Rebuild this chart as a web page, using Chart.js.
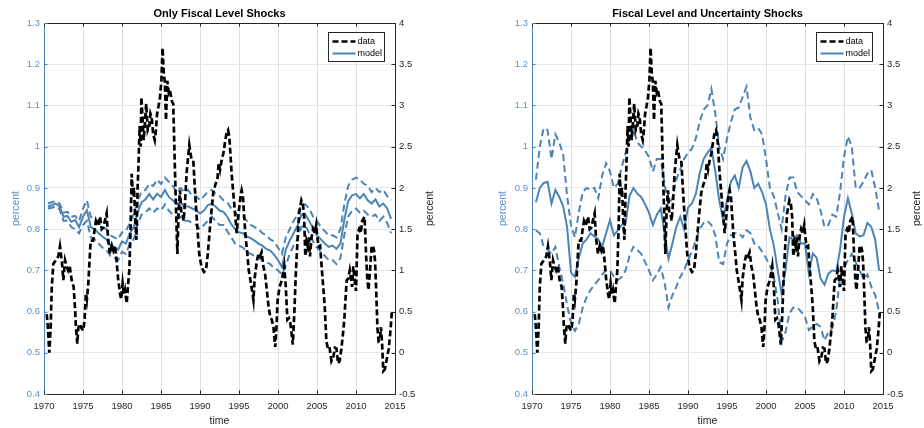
<!DOCTYPE html>
<html><head><meta charset="utf-8">
<script src="https://cdn.jsdelivr.net/npm/chart.js@4/dist/chart.umd.min.js"></script>
<style>
html,body{margin:0;padding:0;background:#fff;}
#wrap{position:relative;width:924px;height:428px;}
.c{position:absolute;top:0;width:462px;height:428px;}
</style></head><body>
<div id="wrap">
<div class="c" style="left:0"><canvas id="c1" width="462" height="428"></canvas></div>
<div class="c" style="left:462px"><canvas id="c2" width="462" height="428"></canvas></div>
</div>
<script>
// ---------- DATA ----------
const panelTitles = ['Only Fiscal Level Shocks', 'Fiscal Level and Uncertainty Shocks'];
const xTicks = [1970, 1975, 1980, 1985, 1990, 1995, 2000, 2005, 2010, 2015];
const leftTicks = [0.4, 0.5, 0.6, 0.7, 0.8, 0.9, 1, 1.1, 1.2, 1.3];
const rightTicks = [-0.5, 0, 0.5, 1, 1.5, 2, 2.5, 3, 3.5, 4];

// observed data (right axis, percent)
const dataT = [1970.35,1970.5,1970.68,1970.85,1971.0,1971.2,1971.5,1971.84,1972.05,1972.3,1972.48,1972.7,1972.9,1973.1,1973.3,1973.55,1973.8,1973.97,1974.1,1974.27,1974.4,1974.6,1974.8,1975.04,1975.2,1975.38,1975.5,1975.68,1975.98,1976.3,1976.5,1976.67,1976.9,1977.18,1977.4,1977.6,1977.8,1978.03,1978.2,1978.46,1978.7,1978.89,1979.1,1979.3,1979.5,1979.74,1979.9,1980.08,1980.25,1980.38,1980.6,1980.8,1980.94,1981.1,1981.24,1981.4,1981.54,1981.7,1981.85,1982.0,1982.1,1982.26,1982.4,1982.48,1982.6,1982.78,1982.95,1983.1,1983.3,1983.5,1983.65,1983.8,1984.0,1984.2,1984.35,1984.5,1984.7,1984.87,1985.05,1985.2,1985.35,1985.5,1985.64,1985.8,1986.0,1986.15,1986.4,1986.57,1986.8,1987.0,1987.1,1987.25,1987.43,1987.6,1987.77,1987.9,1988.07,1988.3,1988.63,1988.9,1989.14,1989.4,1989.66,1989.9,1990.2,1990.5,1990.77,1991.0,1991.28,1991.5,1991.7,1992.0,1992.23,1992.4,1992.57,1992.8,1993.0,1993.2,1993.4,1993.6,1993.76,1994.06,1994.3,1994.5,1994.7,1994.85,1995.04,1995.2,1995.34,1995.5,1995.64,1995.85,1996.07,1996.25,1996.4,1996.6,1996.85,1997.0,1997.3,1997.5,1997.7,1997.9,1998.15,1998.35,1998.57,1998.8,1999.0,1999.2,1999.42,1999.64,1999.8,1999.95,2000.2,2000.5,2000.8,2001.0,2001.2,2001.4,2001.6,2001.9,2002.1,2002.3,2002.5,2002.7,2003.0,2003.2,2003.35,2003.5,2003.65,2003.8,2003.95,2004.1,2004.3,2004.5,2004.7,2004.9,2005.05,2005.2,2005.4,2005.6,2005.8,2006.0,2006.2,2006.4,2006.6,2006.85,2007.1,2007.3,2007.5,2007.7,2007.9,2008.1,2008.3,2008.5,2008.8,2009.0,2009.2,2009.35,2009.5,2009.65,2009.8,2010.0,2010.2,2010.4,2010.6,2010.8,2011.1,2011.3,2011.45,2011.6,2011.8,2012.0,2012.15,2012.3,2012.45,2012.6,2012.75,2012.9,2013.05,2013.2,2013.35,2013.5,2013.7,2013.9,2014.2,2014.4,2014.6];
const dataV = [0.47,0.3,0.0,0.3,0.8,1.08,1.12,1.17,1.29,1.1,0.88,1.12,1.05,1.0,1.05,0.88,0.8,0.55,0.3,0.11,0.3,0.35,0.3,0.27,0.4,0.72,0.65,0.84,1.36,1.36,1.5,1.6,1.55,1.65,1.5,1.52,1.6,1.69,1.4,1.2,1.3,1.24,1.3,1.12,0.9,0.72,0.65,0.84,0.7,0.76,0.6,0.85,1.0,1.5,2.17,1.9,2.0,1.6,1.37,2.0,2.25,2.75,2.5,3.1,2.9,2.58,2.8,3.02,2.7,2.75,2.9,2.86,2.65,2.58,2.7,2.9,3.0,3.1,3.3,3.7,3.4,3.27,2.82,3.3,3.15,3.18,3.05,3.02,2.17,1.5,1.2,1.7,1.97,1.7,1.69,1.6,1.81,2.2,2.52,2.35,2.33,1.9,1.52,1.2,1.04,0.98,1.0,1.2,1.52,1.75,1.94,2.05,2.1,2.3,2.22,2.35,2.42,2.55,2.66,2.7,2.62,2.17,1.9,1.69,1.45,1.6,1.77,1.9,1.97,1.9,1.69,1.4,1.2,1.0,0.92,0.8,0.64,0.9,1.12,1.2,1.17,1.22,1.04,0.95,0.76,0.55,0.44,0.4,0.31,0.07,0.3,0.64,0.8,0.88,1.05,0.8,0.4,0.42,0.35,0.1,0.5,1.0,1.35,1.69,1.85,1.8,1.65,1.17,1.35,1.29,1.4,1.17,1.4,1.5,1.45,1.55,1.4,1.29,1.3,1.04,0.8,0.55,0.14,0.05,0.07,-0.1,-0.05,0.06,0.05,-0.13,-0.1,0.03,0.2,0.4,0.88,0.9,1.0,0.9,0.8,1.05,0.9,0.75,1.45,1.5,1.45,1.6,1.65,1.17,0.9,0.76,1.0,1.29,1.3,1.25,1.1,0.72,0.3,0.14,0.15,0.31,0.1,-0.22,-0.2,-0.1,0.05,0.25,0.5];

// model time grid (half-yearly, 1970.5 .. 2014.5)
const modelT = Array.from({length: 89}, (_, i) => 1970.5 + i * 0.5);

// Panel 1: only fiscal level shocks (left axis, percent)
const p1Model = [.855,.858,.862,.855,.83,.832,.818,.822,.805,.83,
 .846,.805,.80,.79,.782,.775,.76,.757,.75,.77,
 .765,.79,.805,.84,.865,.872,.885,.872,.886,.878,
 .895,.878,.87,.862,.865,.855,.855,.85,.846,.838,
 .845,.858,.862,.855,.845,.842,.83,.812,.80,.792,
 .79,.782,.778,.772,.765,.76,.752,.748,.738,.725,
 .708,.75,.772,.79,.808,.835,.836,.82,.80,.785,
 .775,.765,.757,.76,.752,.765,.822,.868,.882,.885,
 .875,.885,.87,.862,.872,.855,.862,.85,.825];
const p1Upper = [.862,.865,.868,.862,.84,.842,.83,.832,.82,.85,
 .87,.83,.82,.815,.805,.80,.785,.78,.775,.792,
 .795,.815,.835,.87,.89,.895,.91,.905,.92,.91,
 .925,.915,.905,.89,.90,.89,.895,.88,.88,.87,
 .88,.89,.895,.885,.88,.87,.865,.85,.84,.83,
 .83,.82,.81,.805,.80,.79,.785,.775,.77,.755,
 .74,.78,.80,.82,.835,.86,.86,.85,.83,.82,
 .805,.795,.785,.785,.78,.80,.86,.905,.92,.925,
 .92,.91,.905,.89,.90,.89,.895,.88,.87];
const p1Lower = [.85,.852,.855,.848,.82,.82,.805,.80,.79,.81,
 .82,.78,.775,.765,.755,.75,.735,.73,.725,.745,
 .74,.765,.775,.81,.835,.84,.85,.84,.85,.845,
 .86,.845,.835,.83,.83,.82,.82,.815,.81,.80,
 .81,.82,.83,.82,.81,.81,.795,.78,.765,.76,
 .755,.745,.74,.735,.73,.725,.72,.715,.705,.70,
 .69,.71,.74,.76,.775,.805,.81,.79,.77,.755,
 .745,.735,.725,.725,.715,.73,.785,.83,.845,.85,
 .84,.845,.835,.83,.835,.82,.83,.815,.79];

// Panel 2: fiscal level and uncertainty shocks (left axis, percent)
const p2Model = [.865,.90,.912,.915,.862,.895,.878,.855,.805,.695,
 .684,.73,.765,.775,.79,.782,.775,.757,.79,.822,
 .785,.797,.81,.815,.88,.90,.886,.878,.86,.84,
 .81,.835,.85,.79,.728,.765,.805,.83,.80,.852,
 .862,.885,.935,.97,.985,.998,.94,.87,.822,.87,
 .915,.93,.90,.95,.965,.94,.90,.91,.89,.86,
 .80,.76,.70,.644,.70,.78,.775,.785,.765,.765,
 .692,.741,.73,.68,.665,.692,.70,.697,.75,.83,
 .875,.838,.79,.782,.785,.815,.805,.775,.70];
const p2Upper = [.92,1.0,1.045,1.04,.97,1.03,1.01,.98,.88,.81,
 .78,.84,.89,.90,.895,.90,.875,.93,.96,.94,
 .90,.91,.95,.985,1.02,1.045,1.01,1.0,.99,.975,
 .94,.97,.97,.91,.86,.875,.92,.945,.97,.985,
 .995,1.02,1.06,1.09,1.10,1.14,1.08,1.0,.97,1.02,
 1.06,1.09,1.095,1.12,1.145,1.07,1.04,1.045,1.03,.97,
 .90,.88,.84,.80,.88,.925,.925,.89,.88,.87,
 .86,.885,.875,.845,.805,.81,.835,.83,.89,.975,
 1.025,1.0,.90,.90,.915,.935,.943,.90,.845];
const p2Lower = [.797,.79,.757,.75,.74,.757,.708,.668,.615,.572,
 .553,.57,.61,.635,.652,.665,.676,.69,.70,.70,
 .685,.676,.684,.70,.735,.757,.749,.74,.72,.70,
 .676,.69,.708,.67,.61,.64,.66,.684,.70,.725,
 .745,.773,.80,.815,.82,.81,.785,.72,.715,.765,
 .785,.79,.79,.78,.797,.79,.765,.76,.745,.73,
 .712,.685,.627,.525,.55,.595,.61,.61,.60,.587,
 .555,.565,.57,.563,.53,.55,.56,.60,.685,.705,
 .725,.74,.72,.70,.68,.69,.66,.64,.60];

// ---------- STYLE ----------
const FONT = '"Liberation Sans", Arial, Helvetica, sans-serif';
const BLUE = '#4b84b6';
const BLUE_TXT = '#5b93c6';
const DARK = '#262626';
Chart.defaults.font.family = FONT;

const pts = (t, v) => t.map((x, i) => ({x: x, y: v[i]}));
const fmt = v => String(parseFloat(Number(v).toFixed(2)));

const decor = {
  id: 'decor',
  afterDraw(chart, args, o) {
    const ctx = chart.ctx, a = chart.chartArea, s = chart.scales;
    const TL = 3.5;
    ctx.save();
    ctx.lineWidth = 1;
    ctx.strokeStyle = DARK;
    ctx.beginPath(); ctx.moveTo(a.left, a.top + 0.5); ctx.lineTo(a.right, a.top + 0.5); ctx.stroke();
    ctx.beginPath();
    xTicks.forEach(v => {
      const x = Math.round(s.x.getPixelForValue(v)) + 0.5;
      ctx.moveTo(x, a.bottom); ctx.lineTo(x, a.bottom - TL);
      ctx.moveTo(x, a.top); ctx.lineTo(x, a.top + TL);
    });
    ctx.stroke();
    ctx.beginPath();
    rightTicks.forEach(v => {
      const y = Math.round(s.yR.getPixelForValue(v)) + 0.5;
      ctx.moveTo(a.right, y); ctx.lineTo(a.right - TL, y);
    });
    ctx.stroke();
    ctx.strokeStyle = BLUE;
    ctx.beginPath();
    leftTicks.forEach(v => {
      const y = Math.round(s.yL.getPixelForValue(v)) + 0.5;
      ctx.moveTo(a.left, y); ctx.lineTo(a.left + TL, y);
    });
    ctx.stroke();
    ctx.fillStyle = '#000';
    ctx.font = 'bold 11px ' + FONT;
    ctx.textAlign = 'center'; ctx.textBaseline = 'middle';
    ctx.fillText(o.title, (a.left + a.right) / 2, 14);
    ctx.save();
    ctx.fillStyle = DARK;
    ctx.font = '10.5px ' + FONT;
    ctx.translate(o.rtx, (a.top + a.bottom) / 2);
    ctx.rotate(-Math.PI / 2);
    ctx.fillText('percent', 0, 0);
    ctx.restore();
    const bx = a.right - 67 + 0.5, by = 32.5, bw = 56, bh = 29;
    ctx.fillStyle = '#fff';
    ctx.fillRect(bx, by, bw, bh);
    ctx.strokeStyle = DARK; ctx.lineWidth = 1;
    ctx.strokeRect(bx, by, bw, bh);
    ctx.lineWidth = 2.5; ctx.strokeStyle = '#000'; ctx.setLineDash([6, 3]);
    ctx.beginPath(); ctx.moveTo(bx + 4, by + 9); ctx.lineTo(bx + 27, by + 9); ctx.stroke();
    ctx.setLineDash([]); ctx.strokeStyle = BLUE; ctx.lineWidth = 2;
    ctx.beginPath(); ctx.moveTo(bx + 4, by + 21); ctx.lineTo(bx + 27, by + 21); ctx.stroke();
    ctx.fillStyle = '#000';
    ctx.font = '9px ' + FONT;
    ctx.textAlign = 'left';
    ctx.fillText('data', bx + 29, by + 9);
    ctx.fillText('model', bx + 29, by + 21);
    ctx.restore();
  }
};

function makeChart(id, idx, model, upper, lower, leftW, rightW, ltPad, rtx) {
  const dashBand = {yAxisID: 'yL', borderColor: BLUE, borderWidth: 2, borderDash: [7, 4], pointRadius: 0, tension: 0, fill: false};
  return new Chart(document.getElementById(id), {
    type: 'line',
    data: {
      datasets: [
        {label: 'data', data: pts(dataT, dataV), yAxisID: 'yR', borderColor: '#000', borderWidth: 2.7, borderDash: [6, 3], pointRadius: 0, tension: 0, fill: false},
        Object.assign({label: 'model', data: pts(modelT, model)}, dashBand, {borderDash: [], borderWidth: 2}),
        Object.assign({label: 'upper', data: pts(modelT, upper)}, dashBand),
        Object.assign({label: 'lower', data: pts(modelT, lower)}, dashBand)
      ]
    },
    options: {
      responsive: false, animation: false, devicePixelRatio: 1, events: [],
      layout: {padding: {top: 23, left: 0, right: 0, bottom: 0}},
      plugins: {legend: {display: false}, title: {display: false}, tooltip: {enabled: false},
        decor: {title: panelTitles[idx], rtx: rtx}},
      scales: {
        x: {type: 'linear', position: 'bottom', min: 1970, max: 2015,
          afterBuildTicks: s => { s.ticks = xTicks.map(v => ({value: v})); },
          ticks: {color: DARK, font: {size: 9.5}, callback: v => String(v), maxRotation: 0, autoSkip: false, padding: 7},
          grid: {color: '#dedede', lineWidth: 1, drawTicks: false},
          border: {color: DARK, width: 1},
          title: {display: true, text: 'time', color: DARK, font: {size: 10.5}, padding: {top: 0, bottom: 1}},
          afterFit: s => { s.height = 34; }
        },
        yL: {type: 'linear', position: 'left', min: 0.4, max: 1.3,
          afterBuildTicks: s => { s.ticks = leftTicks.map(v => ({value: v})); },
          ticks: {color: BLUE_TXT, font: {size: 9.5}, callback: v => fmt(v), padding: 4},
          grid: {color: '#e3e9ef', lineWidth: 1, drawTicks: false},
          border: {color: BLUE, width: 1},
          title: {display: true, text: 'percent', color: BLUE_TXT, font: {size: 10.5}, padding: {top: ltPad, bottom: 0}},
          afterFit: s => { s.width = leftW; }
        },
        yR: {type: 'linear', position: 'right', min: -0.5, max: 4,
          afterBuildTicks: s => { s.ticks = rightTicks.map(v => ({value: v})); },
          ticks: {color: DARK, font: {size: 9.5}, callback: v => fmt(v), padding: 4},
          grid: {display: false, drawTicks: false},
          border: {color: DARK, width: 1},
          title: {display: false},
          afterFit: s => { s.width = rightW; }
        }
      }
    },
    plugins: [decor]
  });
}

makeChart('c1', 0, p1Model, p1Upper, p1Lower, 44, 67, 10, 430);
makeChart('c2', 1, p2Model, p2Upper, p2Lower, 70, 41, 35, 455);
</script>
</body></html>
